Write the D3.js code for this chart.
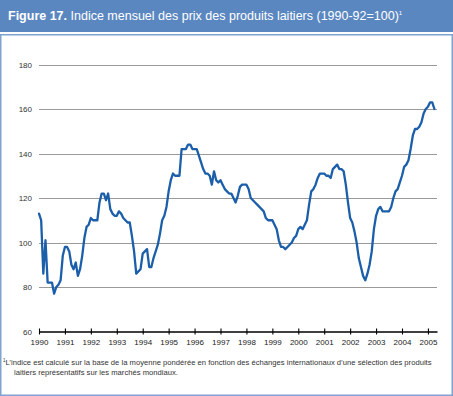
<!DOCTYPE html>
<html><head><meta charset="utf-8">
<script src="https://cdn.jsdelivr.net/npm/d3@7"></script>
<style>
html,body{margin:0;padding:0;background:#fff;}
svg{display:block;}
</style></head>
<body>
<script>
// Monthly index values, Jan 1990 – Apr 2005 (1990-92=100)
const startYear = 1990;
const values = [
  113,110,86,101,82,82,82,77,80,81,83,94,      // 1990
  98,98,96,90,88,91,85,88,94,102,107,108,      // 1991
  111,110,110,110,118,122,122,119,122,115,113,112, // 1992
  112,114,113,111,110,109,109,103,96,86,87,88, // 1993
  95,96,97,89,89,93,96,99,104,110,112,116,     // 1994
  123,128,131,130,130,130,142,142,142,144,144,142, // 1995
  142,142,139,136,133,131,131,130,126,132,128,127, // 1996
  128,126,124,123,122,122,120,118,121,125,126,126, // 1997
  126,124,120,119,118,117,116,115,114,111,110,110, // 1998
  110,108,106,101,98,98,97,98,99,100,102,103,  // 1999
  106,107,106,108,110,117,123,124,126,129,131,131, // 2000
  131,130,130,129,133,134,135,133,133,132,126,118, // 2001
  111,109,105,100,93,89,85,83,86,90,96,106,    // 2002
  112,115,116,114,114,114,114,116,120,123,124,127, // 2003
  130,134,135,137,142,148,151,151,152,154,158,160, // 2004
  161,163,163,160                              // 2005
];
const yearTicks = d3.range(1990, 2006);
const yTicks = [60, 80, 100, 120, 140, 160, 180];
const titleBold = "Figure 17.";
const titleText = " Indice mensuel des prix des produits laitiers (1990-92=100)";
const footLine1 = "L\u2019indice est calculé sur la base de la moyenne pondérée en fonction des échanges internationaux d\u2019une sélection des produits";
const footLine2 = "laitiers représentatifs sur les marchés mondiaux.";

const W = 453, H = 396;
const FONT = "'Liberation Sans', Arial, sans-serif";
const svg = d3.select("body").append("svg").attr("width", W).attr("height", H);

// Frame
svg.append("rect").attr("x",0).attr("y",0).attr("width",W).attr("height",32).attr("fill","#5b87c1");
svg.append("rect").attr("x",0.75).attr("y",34.75).attr("width",W-1.5).attr("height",H-35.5)
   .attr("fill","#fff").attr("stroke","#7ea3d2").attr("stroke-width",1.5);

// Title
const t = svg.append("text").attr("x",8).attr("y",20)
  .attr("font-family",FONT).attr("font-size",12.5).attr("fill","#fff");
t.append("tspan").attr("font-weight","bold").text(titleBold);
t.append("tspan").text(titleText);
t.append("tspan").attr("font-size",6).attr("dy",-5).text("1");

// Scales
const x = d3.scaleLinear().domain([1990, 2005.35]).range([39, 437]);
const y = d3.scaleLinear().domain([60, 180]).range([331.5, 64.5]);

// Gridlines
svg.append("g").selectAll("line").data(yTicks.filter(d => d > 60)).join("line")
  .attr("x1", 39).attr("x2", 437)
  .attr("y1", d => Math.round(y(d)) + 0.5).attr("y2", d => Math.round(y(d)) + 0.5)
  .attr("stroke", "#9a9a9a").attr("stroke-width", 1);

// Y labels
svg.append("g").selectAll("text").data(yTicks).join("text")
  .attr("x", 32).attr("y", d => y(d) + 3)
  .attr("text-anchor","end")
  .attr("font-family",FONT).attr("font-size",8).attr("fill","#333")
  .text(d => d);

// X axis
const xAxis = d3.axisBottom(x).tickValues(yearTicks).tickFormat(d3.format("d"))
  .tickSizeInner(3).tickSizeOuter(0).tickPadding(5);
const gx = svg.append("g").attr("transform", `translate(0,${y(60)})`).call(xAxis);
gx.select(".domain").attr("stroke","#000").attr("stroke-width",1.3);
gx.selectAll(".tick line").attr("stroke","#000").attr("y1",-3).attr("y2",3).attr("stroke-width",1.1);
gx.selectAll(".tick text").attr("font-family",FONT).attr("font-size",8).attr("fill","#222");

// Line
const data = values.map((v, i) => ({t: startYear + i / 12, v}));
const line = d3.line().x(d => x(d.t)).y(d => y(d.v)).curve(d3.curveLinear);
svg.append("path").datum(data).attr("d", line)
  .attr("fill","none").attr("stroke","#1b5ea9").attr("stroke-width",2.3)
  .attr("stroke-linejoin","round").attr("stroke-linecap","round");

// Footnote
const f1 = svg.append("text").attr("x",3).attr("y",365)
  .attr("font-family",FONT).attr("font-size",7.65).attr("fill","#333");
f1.append("tspan").attr("font-size",4.5).attr("dy",-3).text("1");
f1.append("tspan").attr("dy",3).text(footLine1);
svg.append("text").attr("x",14).attr("y",375)
  .attr("font-family",FONT).attr("font-size",7.65).attr("fill","#333")
  .text(footLine2);
</script>
</body></html>
